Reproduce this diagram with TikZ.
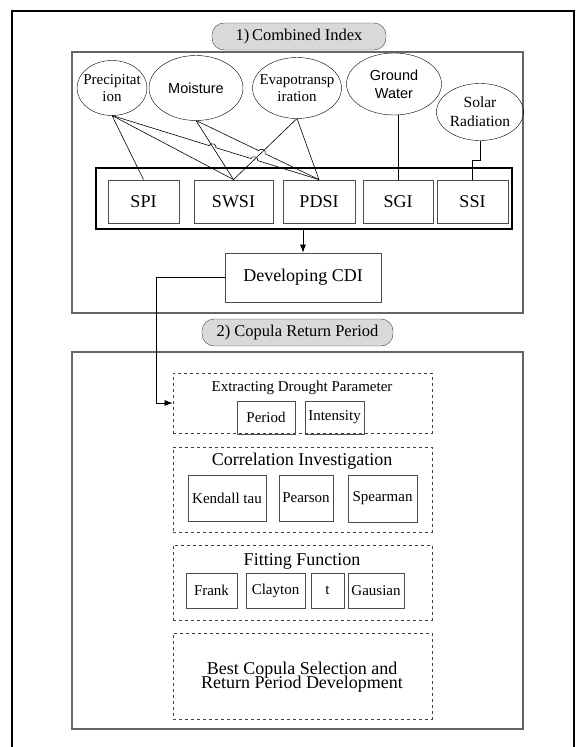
\documentclass[tikz,border=0pt]{standalone}
\usepackage{fontspec}
\setmainfont{Liberation Serif}
\newfontfamily\arialfont{Liberation Sans}
\usepackage{xcolor}
\usepackage{tikz}
\usetikzlibrary{positioning}
\usetikzlibrary{arrows.meta}
\usetikzlibrary{shapes}
\usetikzlibrary{calc}

\begin{document}
\begin{tikzpicture}[x = 1pt, y = -1pt,
        frame/.style = { draw = black!60, line width = 1.1pt },
        title/.style = { draw, black!75, text = black, fill = black!15, rounded corners = 12pt, minimum height = 27pt, inner sep = 0pt, font = \fontsize{16.5}{18}\selectfont },
        source/.style = { ellipse, draw, inner sep = 0pt, outer sep = 0pt },
        srctext/.style = { align = center, font = \fontsize{15}{16}\selectfont, inner sep = 0pt },
        idx/.style = { draw, black!70, text = black, line width = 0.8pt, minimum height = 43pt, inner sep = 0pt, font = \fontsize{18}{20}\selectfont },
        comp/.style = { draw, black!70, text = black, line width = 0.8pt, inner sep = 0pt, font = \fontsize{15}{17}\selectfont },
        group/.style = { draw, dashed, black!75, line width = 0.8pt, minimum width = 259pt, inner sep = 0pt },
        head/.style = { inner sep = 0pt, font = \fontsize{18}{20}\selectfont },
        link/.style = { draw, black, line width = 0.6pt },
        hop/.style = { bend left = 90, looseness = 1.4 },
        flow/.style = { draw, black, line width = 0.7pt, -{Latex[length = 8pt, width = 6pt]} },
    ]
    \useasboundingbox (0,0) rectangle (579,747);
    \draw[black, line width = 1.5pt] (12,747) -- (12,11) -- (574,11) -- (574,747);

    % 1) combined index
    \draw[frame] (72,52) rectangle (523,313);
    \node[title, minimum width = 174pt] (titleA) at (299,36.5) {1)\,Combined Index};

    \node[source, minimum width = 70pt, minimum height = 55pt] (prec) at (112,88) {};
    \node[srctext] at (prec) {Precipitat\\[1pt]ion};
    \node[source, minimum width = 94pt, minimum height = 65pt] (moist) at (196,88) {};
    \node[srctext, font = \arialfont\fontsize{14.5}{16}\selectfont] at (moist) {Moisture};
    \node[source, minimum width = 89pt, minimum height = 61pt] (evap) at (297,88) {};
    \node[srctext] at (evap) {Evapotransp\\[1pt]iration};
    \node[source, minimum width = 95pt, minimum height = 62pt] (ground) at (394,84) {};
    \node[srctext, font = \arialfont\fontsize{14.5}{18}\selectfont] at (ground) {Ground\\Water};
    \node[source, minimum width = 87pt, minimum height = 57pt] (solar) at (480,112) {};
    \node[srctext, font = \fontsize{15.5}{19}\selectfont] at (solar) {Solar\\Radiation};

    \node[draw, line width = 1.6pt, minimum width = 416pt, minimum height = 61pt, inner sep = 0pt] (idxbox) at (304,198.5) {};
    \node[idx, minimum width = 71pt] (spi) at (143.5,201.5) {SPI};
    \node[idx, minimum width = 79pt] (swsi) at (233.5,201.5) {SWSI};
    \node[idx, minimum width = 72pt] (pdsi) at (319,201.5) {PDSI};
    \node[idx, minimum width = 70pt] (sgi) at (398,202) {SGI};
    \node[idx, minimum width = 71pt] (ssi) at (472.5,202) {SSI};

    \coordinate (hopA) at (intersection of prec.south--pdsi.north and moist.south--swsi.north);
    \coordinate (hopB) at (intersection of prec.south--pdsi.north and evap.south--swsi.north);
    \coordinate (hopC) at (intersection of moist.south--pdsi.north and evap.south--swsi.north);

    \draw[link] (prec.south) -- (spi.north);
    \draw[link] (prec.south) -- (swsi.north);
    \draw[link] (prec.south) -- ($(hopA)!3.5pt!(prec.south)$) to[hop] ($(hopA)!3.5pt!(pdsi.north)$)
        -- ($(hopB)!3.5pt!(prec.south)$) to[hop] ($(hopB)!3.5pt!(pdsi.north)$) -- (pdsi.north);
    \draw[link] (moist.south) -- (swsi.north);
    \draw[link] (moist.south) -- ($(hopC)!3.5pt!(moist.south)$) to[hop] ($(hopC)!3.5pt!(pdsi.north)$) -- (pdsi.north);
    \draw[link] (evap.south) -- (swsi.north);
    \draw[link] (evap.south) -- (pdsi.north);
    \draw[link] (sgi.north |- ground.south) -- (sgi.north);
    \draw[link] (solar.south) -- ++(0,20) -| (ssi.north);

    \node[idx, minimum width = 156pt, minimum height = 49pt] (cdi) at (303,277.5) {Developing CDI};
    \draw[flow] (cdi.north |- idxbox.south) -- (cdi.north);

    % 2) copula return period
    \draw[frame] (72,352) rectangle (523,729);
    \node[title, minimum width = 191pt] (titleB) at (297.5,332.5) {2) Copula Return Period};

    \node[group, minimum height = 60pt] (extract) at (302.5,403) {};
    \node[head, font = \fontsize{15}{17}\selectfont] (extracthead) at (302,388) {Extracting Drought Parameter};
    \node[comp, minimum width = 58pt, minimum height = 33pt] (period) at (266,417.5) {Period};
    \node[comp, minimum width = 59pt, minimum height = 33pt] (intensity) at (334.5,417.5) {Intensity};
    \draw[flow] (cdi.west) -- ++(-68,0) |- (extract.west);

    \node[group, minimum height = 85pt] (correl) at (302.5,489.5) {};
    \node[head] (correlhead) at (302,461) {Correlation Investigation};
    \node[comp, minimum width = 78pt, minimum height = 46pt] (kendall) at (227,498) {Kendall tau};
    \node[comp, minimum width = 54pt, minimum height = 46pt] (pearson) at (306,498) {Pearson};
    \node[comp, minimum width = 69pt, minimum height = 47pt] (spearman) at (382.5,498.5) {Spearman};

    \node[group, minimum height = 75pt] (fitting) at (302.5,582.5) {};
    \node[head] (fittinghead) at (302,561) {Fitting Function};
    \node[comp, minimum width = 51pt, minimum height = 35pt] (frank) at (211.5,590.5) {Frank};
    \node[comp, minimum width = 59pt, minimum height = 35pt] (clayton) at (275.5,590.5) {Clayton};
    \node[comp, minimum width = 33pt, minimum height = 35pt] (student) at (327.5,590.5) {t};
    \node[comp, minimum width = 56pt, minimum height = 35pt] (gausian) at (376,590.5) {Gausian};

    \node[group, minimum height = 86pt] (best) at (302.5,676) {};
    \node[head, align = center] (besttext) at (302,677) {Best Copula Selection and\\[-6pt]Return Period Development};
\end{tikzpicture}
\end{document}
